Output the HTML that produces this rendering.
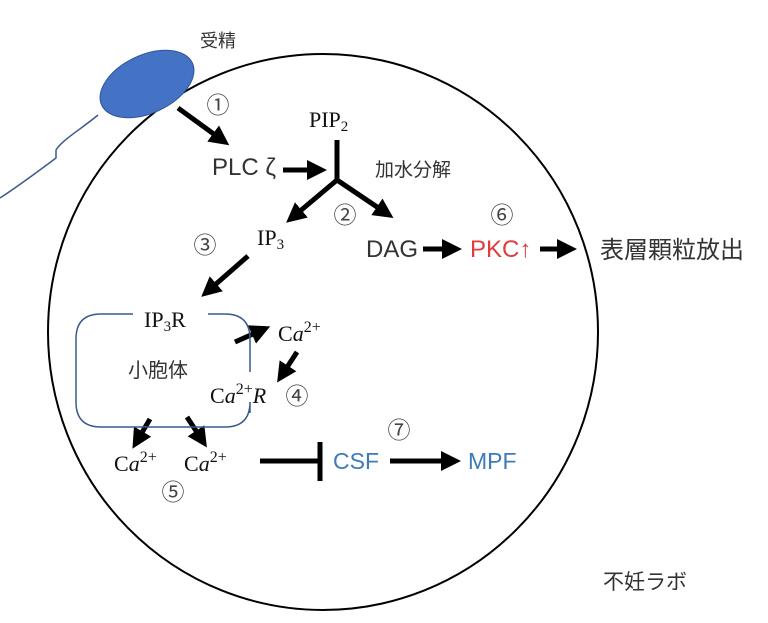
<!DOCTYPE html>
<html><head><meta charset="utf-8"><style>
html,body{margin:0;padding:0;background:#fff;}
svg{display:block}
.s{font-family:"Liberation Sans","Noto Sans CJK JP",sans-serif;fill:#333}
.r{font-family:"Liberation Serif","Noto Serif CJK SC",serif;fill:#111}
.c{font-family:"Noto Sans CJK JP","DejaVu Sans",sans-serif;fill:#444;font-size:23px}
</style></head><body>
<svg width="768" height="623" viewBox="0 0 768 623" xmlns="http://www.w3.org/2000/svg">
<defs>
<marker id="a" markerWidth="4" markerHeight="4" refX="2.2" refY="2" orient="auto" markerUnits="strokeWidth">
<path d="M0,0 L4,2 L0,4 z" fill="#000"/></marker>
</defs>
<ellipse cx="323" cy="332" rx="275" ry="278" fill="none" stroke="#000" stroke-width="2"/>
<path d="M98,115 C80,130 62,140 56,150 L56,158 C40,170 20,185 0,198" fill="none" stroke="#3a5a8c" stroke-width="1.5"/>
<ellipse cx="147" cy="84" rx="50" ry="29" transform="rotate(-25 147 84)" fill="#4472c4" stroke="#2f5597" stroke-width="1"/>
<text x="200" y="47" class="s" font-size="18">受精</text>
<g stroke="#000" stroke-width="5" fill="none">
<line x1="178" y1="108" x2="222" y2="140" marker-end="url(#a)"/>
<line x1="283" y1="170" x2="318" y2="170" marker-end="url(#a)"/>
<line x1="337" y1="140" x2="337" y2="180"/>
<line x1="337" y1="180" x2="293" y2="217" marker-end="url(#a)"/>
<line x1="337" y1="180" x2="386" y2="213" marker-end="url(#a)"/>
<line x1="423" y1="249" x2="453" y2="249" marker-end="url(#a)"/>
<line x1="540" y1="249" x2="568" y2="249" marker-end="url(#a)"/>
<line x1="248" y1="256" x2="208" y2="291" marker-end="url(#a)"/>
<line x1="235" y1="342" x2="262" y2="330" marker-end="url(#a)"/>
<line x1="297" y1="352" x2="282" y2="375" marker-end="url(#a)"/>
<line x1="150" y1="419" x2="137" y2="441" marker-end="url(#a)"/>
<line x1="187" y1="417" x2="202" y2="440" marker-end="url(#a)"/>
<line x1="260" y1="461" x2="320" y2="461"/>
<line x1="320" y1="442" x2="320" y2="481"/>
<line x1="390" y1="461" x2="452" y2="461" marker-end="url(#a)"/>
</g>
<path d="M133,314 L101,314 Q76,314 76,339 L76,402 Q76,427 101,427 L225,427 Q250,427 250,402 L250,413 M250,372 L250,339 Q250,314 225,314 L208,314" fill="none" stroke="#3a5a8c" stroke-width="1.5"/>
<text x="218" y="113" class="c" text-anchor="middle">①</text>
<text x="345" y="223" class="c" text-anchor="middle">②</text>
<text x="205" y="253" class="c" text-anchor="middle">③</text>
<text x="297" y="404" class="c" text-anchor="middle">④</text>
<text x="173" y="500" class="c" text-anchor="middle">⑤</text>
<text x="502" y="223" class="c" text-anchor="middle">⑥</text>
<text x="399" y="438" class="c" text-anchor="middle">⑦</text>
<text x="212" y="175" class="s" font-size="24">PLC ζ</text>
<text x="309" y="127" class="r" font-size="22">PIP<tspan font-size="15" dy="4">2</tspan></text>
<text x="375" y="176" class="s" font-size="19">加水分解</text>
<text x="257" y="245" class="r" font-size="22">IP<tspan font-size="15" dy="4">3</tspan></text>
<text x="366" y="257" class="s" font-size="24">DAG</text>
<text x="470" y="257" class="s" font-size="24" style="fill:#e03c3c">PKC↑</text>
<text x="600" y="258" class="s" font-size="24">表層顆粒放出</text>
<text x="144" y="327" class="r" font-size="22">IP<tspan font-size="15" dy="4">3</tspan><tspan dy="-4">R</tspan></text>
<text x="128" y="377" class="s" font-size="20">小胞体</text>
<text x="278" y="341" class="r" font-size="22">C<tspan font-style="italic">a</tspan><tspan font-size="16" dy="-9">2+</tspan></text>
<text x="210" y="403" class="r" font-size="22">C<tspan font-style="italic">a</tspan><tspan font-size="16" dy="-9">2+</tspan><tspan dy="9" font-style="italic">R</tspan></text>
<text x="114" y="471" class="r" font-size="22">C<tspan font-style="italic">a</tspan><tspan font-size="16" dy="-9">2+</tspan></text>
<text x="184" y="471" class="r" font-size="22">C<tspan font-style="italic">a</tspan><tspan font-size="16" dy="-9">2+</tspan></text>
<text x="333" y="469" class="s" font-size="23" style="fill:#3d7ab8">CSF</text>
<text x="468" y="469" class="s" font-size="23" style="fill:#3d7ab8">MPF</text>
<text x="603" y="589" class="s" font-size="21">不妊ラボ</text>
</svg>
</body></html>
